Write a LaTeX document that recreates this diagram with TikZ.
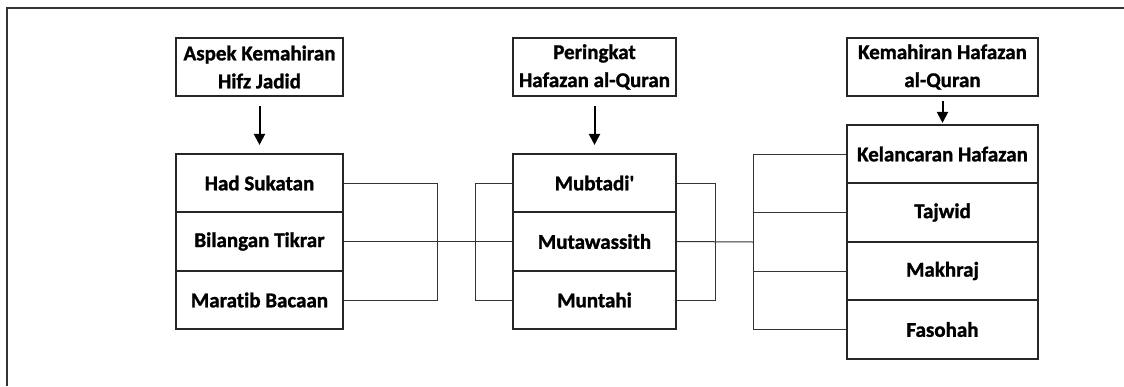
\documentclass[tikz,border=0pt]{standalone}
\usepackage{fontspec}
\setmainfont{Carlito}[Ligatures=NoCommon, BoldFeatures={FakeBold=1.3}]
\usetikzlibrary{arrows.meta}
\begin{document}
\begin{tikzpicture}[x=1pt,y=-1pt,
  lbl/.style={font=\fontsize{21}{28}\selectfont\bfseries, align=center, inner sep=0pt},
  hdr/.style={lbl, draw=black!85, line width=1.8pt, minimum height=58pt},
  rowbox/.style={lbl, draw=black!85, line width=1.8pt, minimum height=58.3pt},
  conn/.style={draw=black!80, line width=1pt},
  arr/.style={line width=2pt, -{Triangle[width=11pt,length=11pt]}},
  frame/.style={draw=black!80, line width=2pt}]
\useasboundingbox (0,0) rectangle (1124,386);
\draw[frame] (7,386) -- (7,8) -- (1124,8);

% headers
\node[hdr, minimum width=167pt] (h1) at (259.5,67) {Aspek Kemahiran\\Hifz Jadid};
\node[hdr, minimum width=163pt] (h2) at (594.5,67) {Peringkat\\Hafazan al-Quran};
\node[hdr, minimum width=191pt] (h3) at (942.5,67) {Kemahiran Hafazan\\al-Quran};

% column 1
\node[rowbox, minimum width=167pt] (had) at (259.5,183) {Had Sukatan};
\node[rowbox, minimum width=167pt] (bil) at (259.5,241.5) {Bilangan Tikrar};
\node[rowbox, minimum width=167pt] (mar) at (259.5,300) {Maratib Bacaan};

% column 2
\node[rowbox, minimum width=163pt] (mub) at (594.5,183) {Mubtadi\textquotesingle};
\node[rowbox, minimum width=163pt] (mut) at (594.5,241.5) {Mutawassith};
\node[rowbox, minimum width=163pt] (mun) at (594.5,300) {Muntahi};

% column 3
\node[rowbox, minimum width=191pt] (kel) at (942.5,154) {Kelancaran Hafazan};
\node[rowbox, minimum width=191pt] (taj) at (942.5,212.5) {Tajwid};
\node[rowbox, minimum width=191pt] (mak) at (942.5,271) {Makhraj};
\node[rowbox, minimum width=191pt] (fas) at (942.5,329.5) {Fasohah};

% arrows
\draw[arr, shorten <=9pt, shorten >=8pt] (h1.south) -- (had.north);
\draw[arr, shorten <=9pt, shorten >=8pt] (h2.south) -- (mub.north);
\draw[arr, shorten <=4pt, shorten >=1pt] (h3.south) -- (kel.north);

% bracket coordinates
\coordinate (b1) at (437,242);
\coordinate (b2) at (475,242);
\coordinate (b3) at (715,242);
\coordinate (b4) at (753,242);

% connectors
\draw[conn] (had.east) -- (had.east -| b1) -- (mar.east -| b1) -- (mar.east);
\draw[conn] (bil.east) -- (mut.west);
\draw[conn] (mub.west) -- (mub.west -| b2) -- (mun.west -| b2) -- (mun.west);
\draw[conn] (mub.east) -- (mub.east -| b3) -- (mun.east -| b3) -- (mun.east);
\draw[conn] (mut.east) -- (b4);
\draw[conn] (kel.west) -- (kel.west -| b4) -- (fas.west -| b4) -- (fas.west);
\draw[conn] (taj.west) -- (taj.west -| b4);
\draw[conn] (mak.west) -- (mak.west -| b4);
\end{tikzpicture}
\end{document}
